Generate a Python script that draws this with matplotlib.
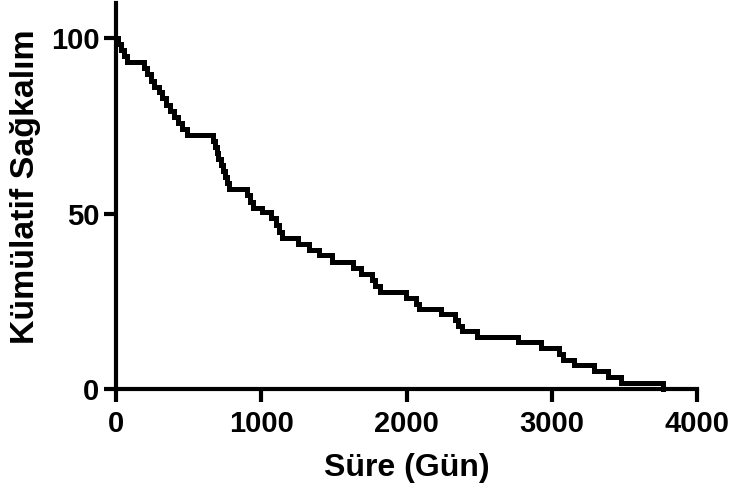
import matplotlib
matplotlib.use("Agg")
import matplotlib.pyplot as plt

plt.rcParams["font.family"] = ["Liberation Sans", "DejaVu Sans"]
plt.rcParams["font.weight"] = "bold"

# Kaplan-Meier steps: time (days) and cumulative survival (%) after each step
days = [0, 15, 35, 55, 75, 190, 215, 240, 265, 295, 320, 345, 375, 400, 430, 455,
        488, 667, 680, 693, 705, 720, 735, 748, 763, 775, 900, 925, 945, 1005,
        1065, 1100, 1125, 1145, 1250, 1330, 1395, 1485, 1635, 1690, 1765, 1785,
        1820, 1995, 2065, 2085, 2235, 2335, 2355, 2385, 2488, 2770, 2925, 3050,
        3075, 3150, 3290, 3390, 3480, 3765]
survival = [100, 98.3, 96.6, 94.8, 93.1, 91.4, 89.7, 87.9, 86.2, 84.5, 82.8, 81.0,
            79.3, 77.6, 75.9, 74.1, 72.4, 70.7, 69.0, 67.2, 65.5, 63.8, 62.1, 60.3,
            58.6, 56.9, 55.2, 53.4, 51.7, 50.3, 48.6, 46.6, 44.8, 43.1, 41.3, 39.7,
            38.2, 36.2, 34.5, 32.8, 31.0, 29.3, 27.6, 25.9, 24.2, 22.9, 21.4, 19.7,
            18.0, 16.4, 14.9, 13.3, 11.6, 10.0, 8.3, 6.7, 5.0, 3.3, 1.6, 0]

x_ticks = [0, 1000, 2000, 3000, 4000]
y_ticks = [0, 50, 100]

fig = plt.figure(figsize=(7.3, 4.96), dpi=100)
ax = fig.add_axes([116 / 730, 107 / 496, 581 / 730, 386 / 496])

ax.step(days, survival, where="post", color="black", lw=3.6,
        solid_joinstyle="miter", clip_on=False, zorder=3)

ax.set_xlim(0, 4000)
ax.set_ylim(0, 110)
ax.set_xticks(x_ticks)
ax.set_yticks(y_ticks)

for side in ["top", "right"]:
    ax.spines[side].set_visible(False)
for side in ["left", "bottom"]:
    ax.spines[side].set_linewidth(3)
ax.tick_params(direction="out", length=9, width=3, labelsize=21)
ax.tick_params(axis="x", pad=6)
ax.tick_params(axis="y", pad=3)

ax.set_xlabel("Süre (Gün)", fontsize=23, fontweight="bold", labelpad=11)
ax.set_ylabel("Kümülatif Sağkalım", fontsize=24.4, fontweight="bold")
ax.yaxis.set_label_coords(-0.129, 0.523)

fig.savefig("out.png", dpi=100)
